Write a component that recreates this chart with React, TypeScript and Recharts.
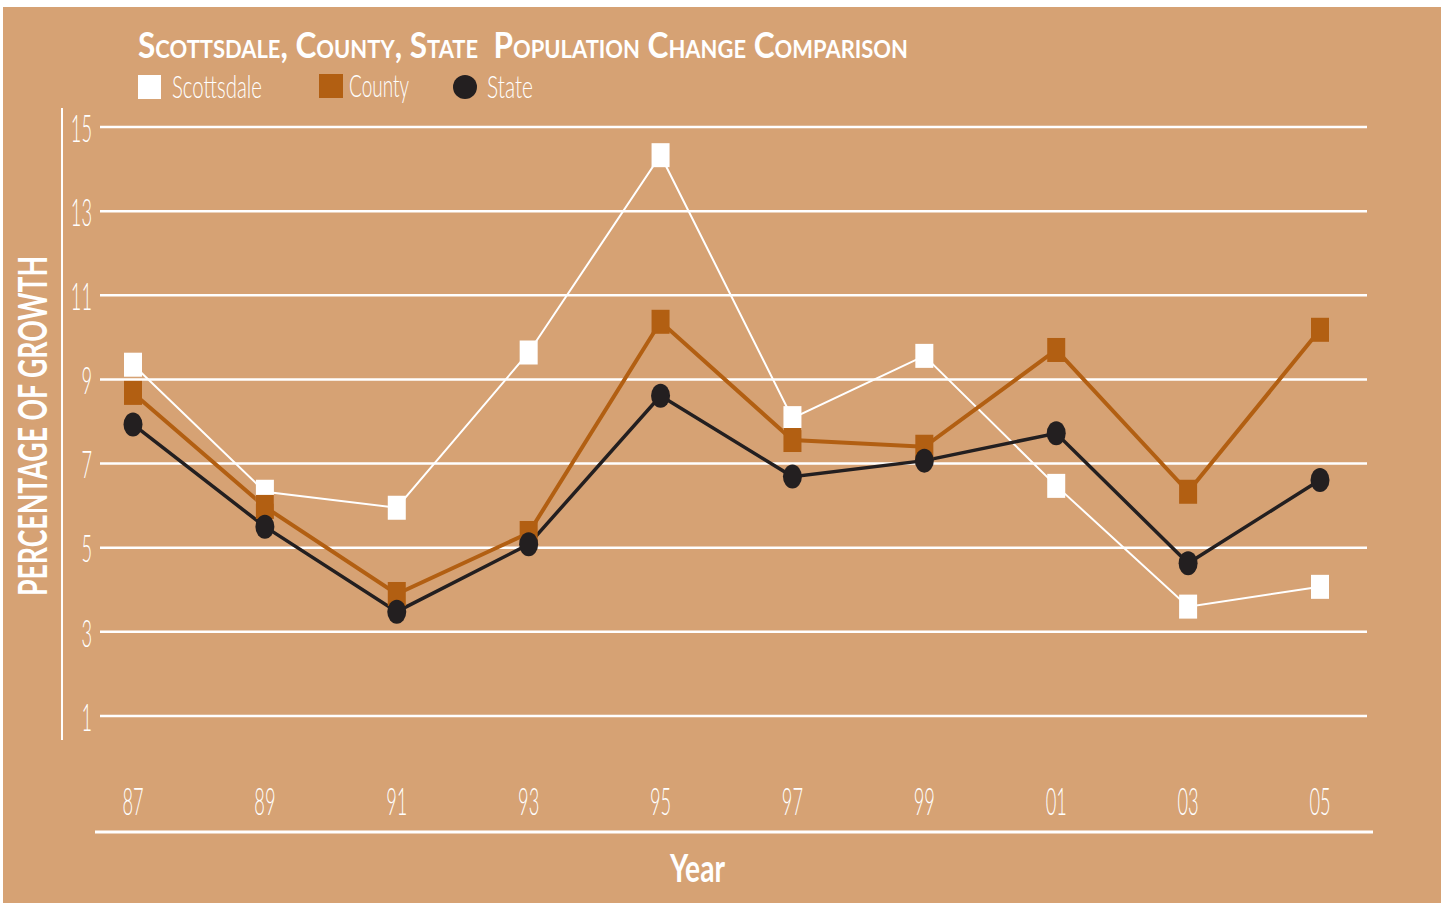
import React from "react";
import { LineChart, Line, XAxis, YAxis, CartesianGrid } from "recharts";

const years = ["87", "89", "91", "93", "95", "97", "99", "01", "03", "05"];
const scottsdale = [9.35, 6.33, 5.95, 9.64, 14.33, 8.08, 9.56, 6.47, 3.6, 4.07];
const county = [8.68, 5.97, 3.9, 5.35, 10.37, 7.56, 7.4, 9.7, 6.33, 10.18];
const state = [7.93, 5.5, 3.48, 5.08, 8.61, 6.69, 7.07, 7.72, 4.63, 6.61];
const yTicks = [1, 3, 5, 7, 9, 11, 13, 15];

const BG = "#D6A274";
const ORANGE = "#B25F12";
const DARK = "#231F20";
const FONT = "Lato, 'Open Sans', sans-serif";

const chartData = years.map((year, i) => ({
  year,
  scottsdale: scottsdale[i],
  county: county[i],
  state: state[i],
}));

// condensed light numbers like the original's Futura
const NumTick = ({ x, y, payload, anchor, dy }: any) => (
  <text
    transform={`translate(${x},${y + dy}) scale(0.48,1)`}
    textAnchor={anchor}
    dominantBaseline="central"
    fill="#fff"
    fontFamily={FONT}
    fontWeight={300}
    fontSize={38}
  >
    {payload.value}
  </text>
);

const squareDot = (fill: string) => (props: any) => {
  const { cx, cy, index } = props;
  if (cx == null || cy == null) return <g key={index} />;
  return <rect key={index} x={cx - 9} y={cy - 12} width={18} height={24} fill={fill} />;
};

const ellipseDot = (props: any) => {
  const { cx, cy, index } = props;
  if (cx == null || cy == null) return <g key={index} />;
  return <ellipse key={index} cx={cx} cy={cy} rx={9.5} ry={12} fill={DARK} />;
};

export default function App() {
  return (
    <div style={{ position: "absolute", left: 0, top: 0, width: 1448, height: 903, background: "#fff" }}>
      <div style={{ position: "absolute", left: 3, top: 7, width: 1438, height: 896, background: BG }} />
      <div style={{ position: "absolute", left: 0, top: 0 }}>
        <LineChart width={1448} height={903} data={chartData} margin={{ top: 127, right: 81, bottom: 157, left: 0 }}>
          <CartesianGrid horizontal vertical={false} stroke="#fff" strokeWidth={2.5} />
          <XAxis
            dataKey="year"
            axisLine={false}
            tickLine={false}
            height={30}
            padding={{ left: 33, right: 47 }}
            interval={0}
            tick={<NumTick anchor="middle" dy={76} />}
          />
          <YAxis
            width={100}
            domain={[1, 15]}
            ticks={yTicks}
            axisLine={false}
            tickLine={false}
            tick={<NumTick anchor="end" dy={0} />}
          />
          <Line dataKey="scottsdale" stroke="#fff" strokeWidth={2} dot={squareDot("#fff")} isAnimationActive={false} />
          <Line dataKey="county" stroke={ORANGE} strokeWidth={4} dot={squareDot(ORANGE)} isAnimationActive={false} />
          <Line dataKey="state" stroke={DARK} strokeWidth={3.5} dot={ellipseDot} isAnimationActive={false} />
        </LineChart>
      </div>
      <svg width={1448} height={903} style={{ position: "absolute", left: 0, top: 0, pointerEvents: "none" }}>
        <text
          x={138}
          y={58}
          fill="#fff"
          fontFamily={FONT}
          fontWeight={700}
          fontSize={36}
          textLength={770}
          lengthAdjust="spacingAndGlyphs"
          style={{ fontVariant: "small-caps", whiteSpace: "pre" }}
        >
          {"Scottsdale, County, State  Population Change Comparison"}
        </text>
        <rect x={138} y={75} width={23} height={24} fill="#fff" />
        <text x={172} y={98} fill="#fff" fontFamily={FONT} fontWeight={300} fontSize={32} textLength={90} lengthAdjust="spacingAndGlyphs">
          Scottsdale
        </text>
        <rect x={319} y={74} width={24} height={24} fill={ORANGE} />
        <text x={349} y={97} fill="#fff" fontFamily={FONT} fontWeight={300} fontSize={32} textLength={60} lengthAdjust="spacingAndGlyphs">
          County
        </text>
        <ellipse cx={465} cy={87} rx={12} ry={12} fill={DARK} />
        <text x={487} y={98} fill="#fff" fontFamily={FONT} fontWeight={300} fontSize={32} textLength={46} lengthAdjust="spacingAndGlyphs">
          State
        </text>
        <line x1={62} y1={108} x2={62} y2={740} stroke="#fff" strokeWidth={2} />
        <line x1={95} y1={832} x2={1373} y2={832} stroke="#fff" strokeWidth={3} />
        <text
          transform="translate(47,596) rotate(-90)"
          fill="#fff"
          fontFamily={FONT}
          fontWeight={700}
          fontSize={40}
          textLength={340}
          lengthAdjust="spacingAndGlyphs"
        >
          PERCENTAGE OF GROWTH
        </text>
        <text x={670} y={882} fill="#fff" fontFamily={FONT} fontWeight={700} fontSize={38} textLength={55} lengthAdjust="spacingAndGlyphs">
          Year
        </text>
      </svg>
    </div>
  );
}
